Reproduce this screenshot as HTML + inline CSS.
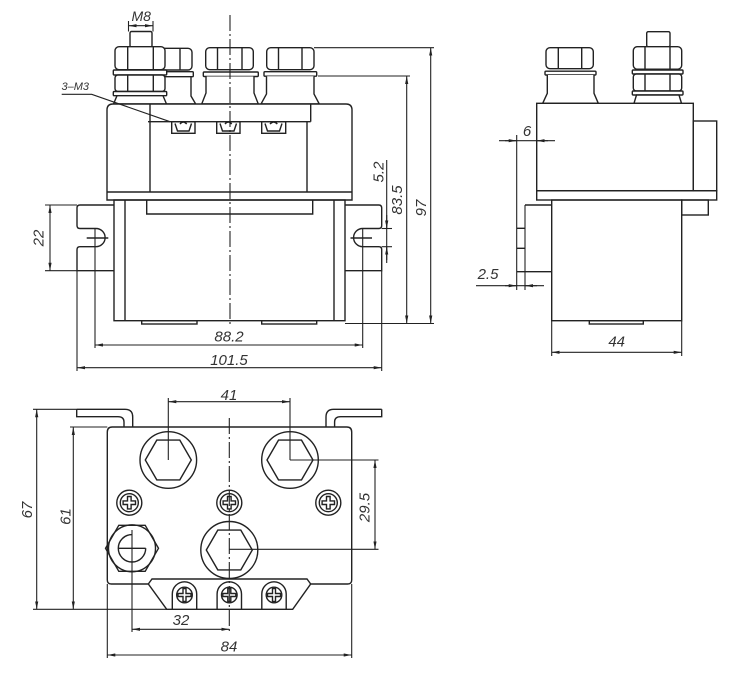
<!DOCTYPE html>
<html><head><meta charset="utf-8">
<style>
html,body{margin:0;padding:0;background:#fff}
svg{display:block}
text{font-family:"Liberation Sans",sans-serif;font-style:italic;fill:#333;font-size:15px}
</style></head><body>
<svg width="750" height="682" viewBox="0 0 750 682" xmlns="http://www.w3.org/2000/svg">
<defs>
<marker id="a" viewBox="0 0 10 4" refX="10" refY="2" markerWidth="8" markerHeight="3.2" markerUnits="userSpaceOnUse" orient="auto-start-reverse"><path d="M0,0L10,2L0,4z" fill="#222"/></marker>
</defs>

<!-- ================= FRONT VIEW ================= -->
<g fill="#fff" stroke="#222" stroke-width="1.4">
  <rect x="141" y="48.3" width="51" height="21.7" rx="4"/>
  <line x1="180" y1="48.3" x2="180" y2="70"/>
  <rect x="139" y="71.7" width="54.3" height="5" rx="1"/>
  <path d="M141,76.7 L191,76.7 L191,96 L195.7,104 L141,104 Z"/>
  <rect x="130" y="31.5" width="22" height="15.5" rx="1.5"/>
  <rect x="115" y="46.7" width="50" height="23" rx="4"/>
  <line x1="127.7" y1="46.7" x2="127.7" y2="69.7"/><line x1="153.3" y1="46.7" x2="153.3" y2="69.7"/>
  <rect x="113.3" y="70" width="53.4" height="5" rx="1"/>
  <rect x="115" y="75" width="50" height="16.5" rx="3"/>
  <line x1="127.7" y1="75" x2="127.7" y2="91.5"/><line x1="153.3" y1="75" x2="153.3" y2="91.5"/>
  <rect x="113.3" y="91.5" width="53.4" height="4.2" rx="1"/>
  <path d="M117,95.7 L113.5,104 L166.5,104 L163,95.7 Z"/>
  <rect x="205.7" y="47.7" width="47.6" height="22" rx="4"/>
  <line x1="217.5" y1="47.7" x2="217.5" y2="69.7"/><line x1="242" y1="47.7" x2="242" y2="69.7"/>
  <rect x="203.3" y="72" width="55" height="4.5" rx="1"/>
  <path d="M206,76.5 L206,93 L201.7,104 L258.3,104 L254,93 L254,76.5"/>
  <rect x="266.7" y="47.7" width="47.3" height="22" rx="4"/>
  <line x1="278.5" y1="47.7" x2="278.5" y2="69.7"/><line x1="302" y1="47.7" x2="302" y2="69.7"/>
  <rect x="264" y="71.7" width="52.7" height="4.5" rx="1"/>
  <path d="M266.5,76.2 L266.5,94 L261,104 L319.3,104 L314,94 L314,76.2"/>
</g>

<g fill="none" stroke="#222" stroke-width="1.4">
  <path d="M107,200 L107,110 Q107,104 113,104 L346,104 Q352,104 352,110 L352,200 Z" fill="#fff"/>
  <line x1="107" y1="192" x2="352" y2="192"/>
  <line x1="150" y1="104" x2="150" y2="192"/>
  <line x1="148" y1="121.7" x2="310.7" y2="121.7"/>
  <line x1="310.7" y1="104" x2="310.7" y2="121.7"/>
  <line x1="307" y1="121.7" x2="307" y2="192"/>
  <rect x="171.7" y="121.7" width="23.3" height="11.6"/>
  <path d="M175,123.5 L177.5,131 L189,131 L191.5,123.5 M180,124 Q183.3,120 186.7,124"/>
  <rect x="216.7" y="121.7" width="23.3" height="11.6"/>
  <path d="M220,123.5 L222.5,131 L234,131 L236.5,123.5 M225,124 Q228.3,120 231.7,124"/>
  <rect x="261.7" y="121.7" width="24" height="11.6"/>
  <path d="M265,123.5 L267.5,131 L279.5,131 L282,123.5 M270,124 Q273.7,120 277.3,124"/>

  <rect x="114" y="200" width="231" height="120.7"/>
  <line x1="125" y1="200" x2="125" y2="320.7"/>
  <line x1="334" y1="200" x2="334" y2="320.7"/>
  <path d="M146.7,200 L146.7,214 L312.7,214 L312.7,200"/>
  <rect x="141.7" y="320.7" width="55.3" height="3.3"/>
  <rect x="261.7" y="320.7" width="55" height="3.3"/>

  <path d="M114,205 L80,205 Q77,205 77,208 L77,225.5 Q77,228.5 80,228.5 L96,228.5 A9.1,9.1 0 0 1 96,246.7 L80,246.7 Q77,246.7 77,249.7 L77,270.7 L114,270.7"/>
  <path d="M345,205 L378.7,205 Q381.7,205 381.7,208 L381.7,225.5 Q381.7,228.5 378.7,228.5 L362.7,228.5 A9.1,9.1 0 0 0 362.7,246.7 L378.7,246.7 Q381.7,246.7 381.7,249.7 L381.7,270.7 L345,270.7"/>
  <line x1="86.7" y1="238" x2="108.3" y2="238"/>
  <line x1="350.5" y1="238" x2="372" y2="238"/>
</g>

<g fill="none" stroke="#222" stroke-width="1.1">
  <line x1="230" y1="15" x2="230" y2="325" stroke-dasharray="16 3 2 3"/>
  <line x1="128.5" y1="21" x2="128.5" y2="31.5"/><line x1="153" y1="21" x2="153" y2="31.5"/>
  <line x1="128.5" y1="25.7" x2="153" y2="25.7" marker-start="url(#a)" marker-end="url(#a)"/>
  <path d="M61.7,94.3 L91.7,94.3 L170,121.7"/>
  <line x1="45" y1="205" x2="77" y2="205"/><line x1="45" y1="270.7" x2="77" y2="270.7"/>
  <line x1="50" y1="205" x2="50" y2="270.7" marker-start="url(#a)" marker-end="url(#a)"/>
  <line x1="95" y1="228.5" x2="95" y2="348"/><line x1="362.7" y1="228.5" x2="362.7" y2="348"/>
  <line x1="95" y1="345" x2="362.7" y2="345" marker-start="url(#a)" marker-end="url(#a)"/>
  <line x1="77" y1="270.7" x2="77" y2="371"/><line x1="381.7" y1="270.7" x2="381.7" y2="371"/>
  <line x1="77" y1="367.7" x2="381.7" y2="367.7" marker-start="url(#a)" marker-end="url(#a)"/>
  <line x1="314" y1="47.7" x2="434" y2="47.7"/>
  <line x1="318" y1="76" x2="410" y2="76"/>
  <line x1="345" y1="323.5" x2="434" y2="323.5"/>
  <line x1="430.7" y1="47.7" x2="430.7" y2="323.5" marker-start="url(#a)" marker-end="url(#a)"/>
  <line x1="406.7" y1="76" x2="406.7" y2="323.5" marker-start="url(#a)" marker-end="url(#a)"/>
  <line x1="381.7" y1="228.5" x2="392" y2="228.5"/><line x1="381.7" y1="246.7" x2="392" y2="246.7"/>
  <line x1="386.7" y1="160" x2="386.7" y2="263"/>
  <line x1="386.7" y1="215" x2="386.7" y2="228.5" marker-end="url(#a)"/>
  <line x1="386.7" y1="260" x2="386.7" y2="246.7" marker-end="url(#a)"/>
</g>

<text x="131.5" y="21" style="font-size:14px">M8</text>
<text x="61.5" y="90" style="font-size:11px">3–M3</text>
<text x="39" y="238" text-anchor="middle" dominant-baseline="central" transform="rotate(-90 39 238)">22</text>
<text x="229" y="341.5" text-anchor="middle">88.2</text>
<text x="229" y="365" text-anchor="middle">101.5</text>
<text x="379" y="172" text-anchor="middle" dominant-baseline="central" transform="rotate(-90 379 172)">5.2</text>
<text x="397.5" y="200" text-anchor="middle" dominant-baseline="central" transform="rotate(-90 397.5 200)">83.5</text>
<text x="421.7" y="208" text-anchor="middle" dominant-baseline="central" transform="rotate(-90 421.7 208)">97</text>

<!-- ================= SIDE VIEW ================= -->
<g fill="#fff" stroke="#222" stroke-width="1.4">
  <rect x="546" y="47.7" width="47.3" height="21" rx="4"/>
  <line x1="558.3" y1="47.7" x2="558.3" y2="68.7"/><line x1="581.7" y1="47.7" x2="581.7" y2="68.7"/>
  <rect x="545" y="71.2" width="51" height="3.8" rx="1"/>
  <path d="M547.3,75 L547.3,93.3 L542.7,103.3 L598.3,103.3 L594,93.3 L594,75"/>
  <rect x="646.7" y="31.7" width="23.3" height="15" rx="1.5"/>
  <rect x="633.3" y="46.7" width="48.4" height="22.5" rx="4"/>
  <line x1="645" y1="46.7" x2="645" y2="69"/><line x1="670" y1="46.7" x2="670" y2="69"/>
  <rect x="632.3" y="70" width="50.7" height="4" rx="1"/>
  <rect x="633.3" y="74" width="48.4" height="17" rx="3"/>
  <line x1="645" y1="74" x2="645" y2="91"/><line x1="670" y1="74" x2="670" y2="91"/>
  <rect x="632.3" y="91" width="50.7" height="4" rx="1"/>
  <path d="M636.5,95 L634,103.3 L681.5,103.3 L679,95 Z"/>
</g>
<g fill="none" stroke="#222" stroke-width="1.4">
  <rect x="536.7" y="103.3" width="156.6" height="87.4" fill="#fff"/>
  <rect x="693.3" y="121" width="23.4" height="69.7"/>
  <rect x="536.7" y="190.7" width="180" height="9.3"/>
  <rect x="681.7" y="200" width="26.6" height="15"/>
  <rect x="551.7" y="200" width="130" height="120.7"/>
  <rect x="589.3" y="320.7" width="54" height="3.3"/>
  <line x1="525" y1="205" x2="551.7" y2="205"/>
  <line x1="516.7" y1="271.7" x2="551.7" y2="271.7"/>
  <line x1="516.7" y1="228.3" x2="525" y2="228.3"/>
  <line x1="516.7" y1="248.3" x2="525" y2="248.3"/>
</g>
<g fill="none" stroke="#222" stroke-width="1.1">
  <line x1="516.7" y1="135" x2="516.7" y2="290"/>
  <line x1="525" y1="205" x2="525" y2="290"/>
  <line x1="499" y1="140.7" x2="555" y2="140.7"/>
  <line x1="505" y1="140.7" x2="516.7" y2="140.7" marker-end="url(#a)"/>
  <line x1="548" y1="140.7" x2="536.7" y2="140.7" marker-end="url(#a)"/>
  <line x1="476" y1="285.7" x2="544" y2="285.7"/>
  <line x1="505" y1="285.7" x2="516.7" y2="285.7" marker-end="url(#a)"/>
  <line x1="537" y1="285.7" x2="525" y2="285.7" marker-end="url(#a)"/>
  <line x1="551.7" y1="321" x2="551.7" y2="356"/><line x1="681.7" y1="321" x2="681.7" y2="356"/>
  <line x1="551.7" y1="352.3" x2="681.7" y2="352.3" marker-start="url(#a)" marker-end="url(#a)"/>
</g>
<text x="527" y="136" text-anchor="middle">6</text>
<text x="488" y="279" text-anchor="middle">2.5</text>
<text x="616.7" y="346.7" text-anchor="middle">44</text>

<!-- ================= BOTTOM VIEW ================= -->
<g fill="none" stroke="#222" stroke-width="1.4">
  <path d="M76.7,409.3 L125,409.3 Q132.7,409.3 132.7,417 L132.7,427"/>
  <path d="M76.7,409.3 L76.7,416.7 L118,416.7 Q124,416.7 124,422 L124,427"/>
  <path d="M381.7,409.3 L333.6,409.3 Q326,409.3 326,417 L326,427"/>
  <path d="M381.7,409.3 L381.7,416.7 L340.6,416.7 Q334.6,416.7 334.6,422 L334.6,427"/>
  <path d="M107.3,432 Q107.3,427 112.3,427 L346.7,427 Q351.7,427 351.7,432 L351.7,580 Q351.7,584 347.7,584 L310.7,584 L292.7,609.3 L166.7,609.3 L148.3,584 L111.3,584 Q107.3,584 107.3,580 Z"/>
  <path d="M148.3,584 L152,579 L307,579 L310.7,584"/>
  <path d="M172.3,609.3 L172.3,594 A12.2,12.2 0 0 1 196.7,594 L196.7,609.3"/>
  <path d="M217.1,609.3 L217.1,594 A12.2,12.2 0 0 1 241.5,594 L241.5,609.3"/>
  <path d="M261.8,609.3 L261.8,594 A12.2,12.2 0 0 1 286.2,594 L286.2,609.3"/>
  <circle cx="184.5" cy="595" r="7.8"/>
  <circle cx="229.3" cy="595" r="7.8"/>
  <circle cx="274" cy="595" r="7.8"/>
  <path d="M183,588.5 h3 v5 h5 v3 h-5 v5 h-3 v-5 h-5 v-3 h5 z"/>
  <path d="M227.8,588.5 h3 v5 h5 v3 h-5 v5 h-3 v-5 h-5 v-3 h5 z"/>
  <path d="M272.5,588.5 h3 v5 h5 v3 h-5 v5 h-3 v-5 h-5 v-3 h5 z"/>
  <circle cx="129.3" cy="502.7" r="12.5"/><circle cx="129.3" cy="502.7" r="9"/>
  <path d="M127.5,496.5 h3.6 v4.4 h4.4 v3.6 h-4.4 v4.4 h-3.6 v-4.4 h-4.4 v-3.6 h4.4 z"/>
  <circle cx="229.3" cy="502.7" r="12.5"/><circle cx="229.3" cy="502.7" r="9"/>
  <path d="M227.5,496.5 h3.6 v4.4 h4.4 v3.6 h-4.4 v4.4 h-3.6 v-4.4 h-4.4 v-3.6 h4.4 z"/>
  <circle cx="328.3" cy="502.7" r="12.5"/><circle cx="328.3" cy="502.7" r="9"/>
  <path d="M326.5,496.5 h3.6 v4.4 h4.4 v3.6 h-4.4 v4.4 h-3.6 v-4.4 h-4.4 v-3.6 h4.4 z"/>
  <circle cx="168.3" cy="460" r="28.3"/>
  <polygon points="145.3,460 156.8,440.1 179.8,440.1 191.3,460 179.8,479.9 156.8,479.9"/>
  <circle cx="290" cy="460" r="28.3"/>
  <polygon points="267,460 278.5,440.1 301.5,440.1 313,460 301.5,479.9 278.5,479.9"/>
  <circle cx="229.3" cy="550" r="28.5"/>
  <polygon points="206.3,550 217.8,530.1 240.8,530.1 252.3,550 240.8,569.9 217.8,569.9"/>
  <polygon points="105.5,548.3 118.8,525.3 145.2,525.3 158.5,548.3 145.2,571.3 118.8,571.3"/>
  <circle cx="132" cy="548.3" r="23.5"/>
  <path d="M132,534.6 A13.7,13.7 0 1 0 145.7,548.3"/>
  <line x1="118.3" y1="548.3" x2="145.7" y2="548.3"/>
</g>
<g fill="none" stroke="#222" stroke-width="1.1">
  <line x1="229.3" y1="418" x2="229.3" y2="632" stroke-dasharray="16 3 2 3"/>
  <line x1="132" y1="530" x2="132" y2="632"/>
  <line x1="168.3" y1="398" x2="168.3" y2="460"/><line x1="290" y1="398" x2="290" y2="460"/>
  <line x1="168.3" y1="401.7" x2="290" y2="401.7" marker-start="url(#a)" marker-end="url(#a)"/>
  <line x1="290" y1="460" x2="378.5" y2="460"/>
  <line x1="229.3" y1="549.3" x2="378.5" y2="549.3"/>
  <line x1="375" y1="460" x2="375" y2="549.3" marker-start="url(#a)" marker-end="url(#a)"/>
  <line x1="33" y1="409.3" x2="76.7" y2="409.3"/>
  <line x1="33" y1="609.3" x2="166.7" y2="609.3"/>
  <line x1="36.7" y1="409.3" x2="36.7" y2="609.3" marker-start="url(#a)" marker-end="url(#a)"/>
  <line x1="70" y1="427" x2="107.3" y2="427"/>
  <line x1="73.3" y1="427" x2="73.3" y2="609.3" marker-start="url(#a)" marker-end="url(#a)"/>
  <line x1="132" y1="629.3" x2="229.3" y2="629.3" marker-start="url(#a)" marker-end="url(#a)"/>
  <line x1="107.3" y1="584" x2="107.3" y2="658"/><line x1="351.7" y1="584" x2="351.7" y2="658"/>
  <line x1="107.3" y1="655" x2="351.7" y2="655" marker-start="url(#a)" marker-end="url(#a)"/>
</g>
<text x="229" y="400" text-anchor="middle">41</text>
<text x="365" y="507.5" text-anchor="middle" dominant-baseline="central" transform="rotate(-90 365 507.5)">29.5</text>
<text x="27.5" y="510" text-anchor="middle" dominant-baseline="central" transform="rotate(-90 27.5 510)">67</text>
<text x="66" y="516.5" text-anchor="middle" dominant-baseline="central" transform="rotate(-90 66 516.5)">61</text>
<text x="181" y="625" text-anchor="middle">32</text>
<text x="229" y="651.5" text-anchor="middle">84</text>
</svg>
</body></html>
